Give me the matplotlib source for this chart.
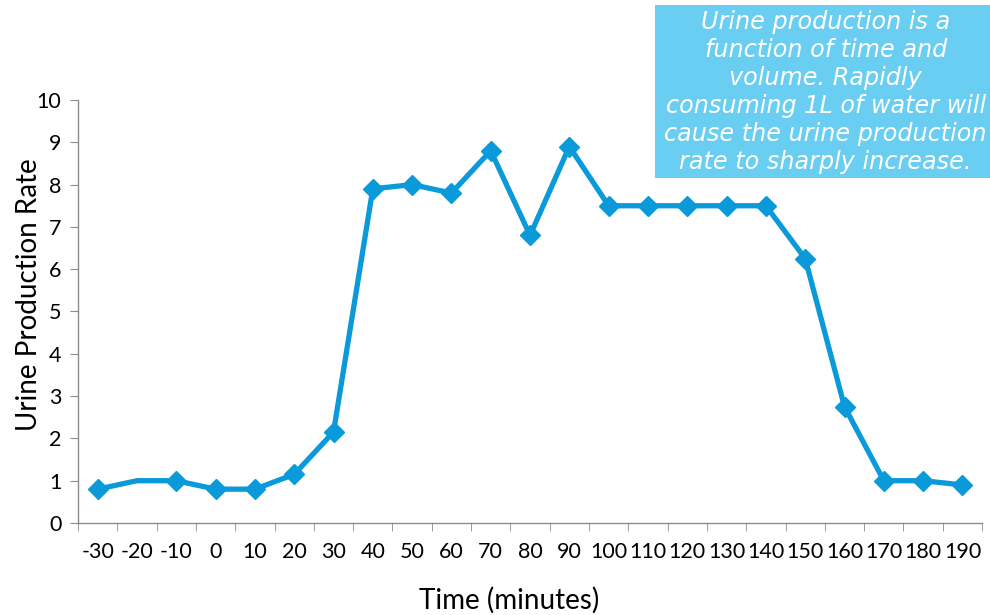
import matplotlib
matplotlib.use("Agg")
import matplotlib.pyplot as plt
from matplotlib.ticker import FixedLocator

# data
times = ['-30', '-20', '-10', '0', '10', '20', '30', '40', '50', '60', '70', '80',
         '90', '100', '110', '120', '130', '140', '150', '160', '170', '180', '190']
rate = [0.8, 1.0, 1.0, 0.8, 0.8, 1.15, 2.15, 7.9, 8.0, 7.8, 8.8, 6.8,
        8.9, 7.5, 7.5, 7.5, 7.5, 7.5, 6.25, 2.75, 1.0, 1.0, 0.9]
# the -20 point has no marker in the original
marked = [i for i in range(len(times)) if times[i] != '-20']

note = ("Urine production is a\nfunction of time and\nvolume. Rapidly\n"
        "consuming 1L of water will\ncause the urine production\n"
        "rate to sharply increase.")

line_col = '#0A9AD9'
box_col = '#6ACEF2'
axis_col = '#8C8C8C'

plt.rcParams['font.family'] = ['Lato', 'DejaVu Sans']

fig = plt.figure(figsize=(9.9, 6.15), dpi=100)
ax = fig.add_axes([0.0788, 0.1496, 0.9132, 0.6878])

x = list(range(len(times)))
ax.plot(x, rate, color=line_col, lw=3.8, marker='D', markersize=10,
        markevery=marked, solid_joinstyle='round')

ax.set_xlim(-0.5, len(times) - 0.5)
ax.set_ylim(0, 10)
ax.set_yticks(range(0, 11))

ax.set_xticks(x)
ax.set_xticklabels(times)
ax.xaxis.set_minor_locator(FixedLocator([i - 0.5 for i in range(len(times) + 1)]))
ax.tick_params(axis='x', which='major', length=0, pad=14, labelsize=15.5, colors='black')
ax.tick_params(axis='x', which='minor', length=6, direction='out', color=axis_col)
ax.tick_params(axis='y', length=6, direction='out', color=axis_col, labelsize=15.5, pad=6)

for s in ['top', 'right']:
    ax.spines[s].set_visible(False)
for s in ['left', 'bottom']:
    ax.spines[s].set_color(axis_col)
    ax.spines[s].set_linewidth(1.0)

ax.set_xlabel('Time (minutes)', fontsize=20)
ax.xaxis.set_label_coords(0.477, -0.150)
ax.set_ylabel('Urine Production Rate', fontsize=20)
ax.yaxis.set_label_coords(-0.040, 0.539)

# note box in the top right corner
fig.patches.append(plt.Rectangle((655 / 990, 1 - 178 / 615), 335 / 990, 173 / 615,
                                 transform=fig.transFigure, facecolor=box_col,
                                 edgecolor='none', zorder=0))
fig.text(0.834, 0.851, note, ha='center', va='center', fontsize=17.2,
         style='italic', color='white', family='DejaVu Sans', linespacing=1.21)

fig.savefig('out.png', dpi=100)
